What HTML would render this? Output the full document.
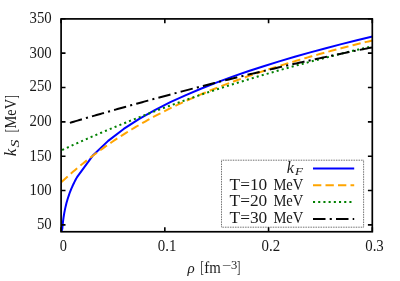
<!DOCTYPE html>
<html><head><meta charset="utf-8"><title>plot</title>
<style>
html,body{margin:0;padding:0;background:#fff;}
svg{display:block;}
text{font-family:"Liberation Serif", "DejaVu Serif", serif;font-size:15.8px;fill:#1a1a1a;}
.it{font-style:italic;}
</style></head><body>
<svg width="400" height="281" viewBox="0 0 400 281">
<rect width="400" height="281" fill="#fff"/>

<g fill="none" stroke-width="2.0" stroke-linejoin="round">
<path d="M61.50,231.75 L62.30,228.75 L62.70,224.34 L63.09,220.82 L63.49,217.86 L63.89,215.26 L64.29,212.94 L64.69,210.84 L65.09,208.90 L65.49,207.10 L65.89,205.41 L66.28,203.83 L66.68,202.33 L67.08,200.91 L67.48,199.55 L67.88,198.25 L68.28,197.01 L68.68,195.81 L69.08,194.65 L69.47,193.54 L69.87,192.46 L70.27,191.42 L70.67,190.41 L71.07,189.42 L71.47,188.47 L71.87,187.54 L72.27,186.63 L72.66,185.74 L73.06,184.88 L73.46,184.03 L73.86,183.21 L74.26,182.40 L74.66,181.60 L75.06,180.83 L75.46,180.07 L75.85,179.32 L76.25,178.59 L76.65,177.87 L77.05,177.16 L92.60,155.82 L108.15,140.85 L123.70,128.94 L139.25,118.87 L154.80,110.08 L170.35,102.21 L185.90,95.06 L201.45,88.49 L217.00,82.39 L232.55,76.68 L248.10,71.30 L263.65,66.22 L279.20,61.40 L294.75,56.79 L310.30,52.39 L325.85,48.17 L341.40,44.11 L356.95,40.19 L372.50,36.42" stroke="#0000ff"/>
<path d="M61.50,181.95 L63.46,180.17 L65.41,178.40 L67.37,176.66 L69.32,174.94 L71.28,173.24 L73.23,171.56 L75.19,169.89 L77.14,168.25 L79.10,166.63 L81.05,165.03 L83.01,163.44 L84.96,161.87 L86.92,160.33 L88.87,158.80 L90.83,157.28 L92.79,155.79 L94.74,154.31 L96.70,152.85 L98.65,151.41 L100.61,149.98 L102.56,148.57 L104.52,147.18 L106.47,145.80 L108.43,144.44 L110.38,143.09 L112.34,141.76 L114.29,140.44 L116.25,139.14 L118.21,137.86 L120.16,136.59 L122.12,135.33 L124.07,134.09 L126.03,132.86 L127.98,131.64 L129.94,130.44 L131.89,129.25 L133.85,128.07 L135.80,126.91 L137.76,125.76 L139.71,124.62 L141.67,123.50 L143.62,122.38 L145.58,121.28 L147.54,120.19 L149.49,119.12 L151.45,118.05 L153.40,116.99 L155.36,115.95 L157.31,114.92 L159.27,113.89 L161.22,112.88 L163.18,111.88 L165.13,110.89 L167.09,109.91 L169.04,108.94 L171.00,107.97 L172.95,107.02 L174.91,106.08 L176.87,105.15 L178.82,104.22 L180.78,103.31 L182.73,102.40 L184.69,101.50 L186.64,100.61 L188.60,99.73 L190.55,98.86 L192.51,97.99 L194.46,97.14 L196.42,96.29 L198.37,95.45 L200.33,94.61 L202.28,93.79 L204.24,92.97 L206.20,92.16 L208.15,91.35 L210.11,90.55 L212.06,89.76 L214.02,88.98 L215.97,88.20 L217.93,87.43 L219.88,86.66 L221.84,85.91 L223.79,85.15 L225.75,84.41 L227.70,83.67 L229.66,82.93 L231.62,82.20 L233.57,81.48 L235.53,80.76 L237.48,80.05 L239.44,79.34 L241.39,78.64 L243.35,77.94 L245.30,77.25 L247.26,76.56 L249.21,75.88 L251.17,75.20 L253.12,74.53 L255.08,73.86 L257.03,73.20 L258.99,72.54 L260.95,71.89 L262.90,71.24 L264.86,70.59 L266.81,69.95 L268.77,69.32 L270.72,68.68 L272.68,68.05 L274.63,67.43 L276.59,66.81 L278.54,66.19 L280.50,65.58 L282.45,64.97 L284.41,64.36 L286.36,63.76 L288.32,63.16 L290.28,62.57 L292.23,61.97 L294.19,61.39 L296.14,60.80 L298.10,60.22 L300.05,59.64 L302.01,59.07 L303.96,58.50 L305.92,57.93 L307.87,57.37 L309.83,56.80 L311.78,56.25 L313.74,55.69 L315.69,55.14 L317.65,54.59 L319.61,54.05 L321.56,53.50 L323.52,52.97 L325.47,52.43 L327.43,51.90 L329.38,51.37 L331.34,50.84 L333.29,50.32 L335.25,49.80 L337.20,49.28 L339.16,48.77 L341.11,48.26 L343.07,47.75 L345.03,47.24 L346.98,46.74 L348.94,46.24 L350.89,45.75 L352.85,45.26 L354.80,44.77 L356.76,44.28 L358.71,43.80 L360.67,43.32 L362.62,42.85 L364.58,42.37 L366.53,41.90 L368.49,41.44 L370.44,40.98 L372.40,40.52" stroke="#ffa500" stroke-dasharray="8.33 4.17"/>
<path d="M61.50,150.31 L63.46,149.41 L65.41,148.52 L67.37,147.62 L69.32,146.73 L71.28,145.85 L73.23,144.96 L75.19,144.09 L77.14,143.21 L79.10,142.34 L81.05,141.47 L83.01,140.61 L84.96,139.75 L86.92,138.89 L88.87,138.04 L90.83,137.19 L92.79,136.34 L94.74,135.50 L96.70,134.66 L98.65,133.82 L100.61,132.99 L102.56,132.16 L104.52,131.34 L106.47,130.52 L108.43,129.70 L110.38,128.88 L112.34,128.07 L114.29,127.26 L116.25,126.46 L118.21,125.66 L120.16,124.86 L122.12,124.07 L124.07,123.28 L126.03,122.49 L127.98,121.71 L129.94,120.93 L131.89,120.15 L133.85,119.37 L135.80,118.60 L137.76,117.84 L139.71,117.07 L141.67,116.31 L143.62,115.55 L145.58,114.80 L147.54,114.05 L149.49,113.30 L151.45,112.56 L153.40,111.81 L155.36,111.08 L157.31,110.34 L159.27,109.61 L161.22,108.88 L163.18,108.16 L165.13,107.43 L167.09,106.71 L169.04,106.00 L171.00,105.28 L172.95,104.57 L174.91,103.87 L176.87,103.16 L178.82,102.46 L180.78,101.77 L182.73,101.07 L184.69,100.38 L186.64,99.69 L188.60,99.00 L190.55,98.32 L192.51,97.64 L194.46,96.96 L196.42,96.29 L198.37,95.62 L200.33,94.95 L202.28,94.29 L204.24,93.62 L206.20,92.96 L208.15,92.31 L210.11,91.65 L212.06,91.00 L214.02,90.36 L215.97,89.71 L217.93,89.07 L219.88,88.43 L221.84,87.79 L223.79,87.16 L225.75,86.53 L227.70,85.90 L229.66,85.27 L231.62,84.65 L233.57,84.03 L235.53,83.41 L237.48,82.80 L239.44,82.18 L241.39,81.57 L243.35,80.97 L245.30,80.36 L247.26,79.76 L249.21,79.16 L251.17,78.57 L253.12,77.97 L255.08,77.38 L257.03,76.79 L258.99,76.20 L260.95,75.62 L262.90,75.04 L264.86,74.46 L266.81,73.89 L268.77,73.31 L270.72,72.74 L272.68,72.17 L274.63,71.61 L276.59,71.04 L278.54,70.48 L280.50,69.92 L282.45,69.37 L284.41,68.81 L286.36,68.26 L288.32,67.71 L290.28,67.16 L292.23,66.62 L294.19,66.08 L296.14,65.54 L298.10,65.00 L300.05,64.47 L302.01,63.93 L303.96,63.40 L305.92,62.87 L307.87,62.35 L309.83,61.82 L311.78,61.30 L313.74,60.78 L315.69,60.27 L317.65,59.75 L319.61,59.24 L321.56,58.73 L323.52,58.22 L325.47,57.71 L327.43,57.21 L329.38,56.71 L331.34,56.21 L333.29,55.71 L335.25,55.21 L337.20,54.72 L339.16,54.23 L341.11,53.74 L343.07,53.25 L345.03,52.77 L346.98,52.28 L348.94,51.80 L350.89,51.32 L352.85,50.84 L354.80,50.37 L356.76,49.90 L358.71,49.42 L360.67,48.95 L362.62,48.49 L364.58,48.02 L366.53,47.56 L368.49,47.10 L370.44,46.64 L372.40,46.18" stroke="#008000" stroke-dasharray="2.08 3.12" stroke-dashoffset="4.48"/>
<path d="M69.90,122.84 L71.80,122.28 L73.71,121.71 L75.61,121.15 L77.51,120.59 L79.41,120.04 L81.32,119.48 L83.22,118.92 L85.12,118.37 L87.02,117.81 L88.93,117.26 L90.83,116.71 L92.73,116.16 L94.63,115.61 L96.54,115.06 L98.44,114.51 L100.34,113.96 L102.24,113.41 L104.15,112.87 L106.05,112.32 L107.95,111.78 L109.85,111.24 L111.76,110.70 L113.66,110.15 L115.56,109.62 L117.46,109.08 L119.37,108.54 L121.27,108.00 L123.17,107.47 L125.07,106.93 L126.98,106.40 L128.88,105.87 L130.78,105.33 L132.68,104.80 L134.59,104.28 L136.49,103.75 L138.39,103.22 L140.29,102.69 L142.20,102.17 L144.10,101.64 L146.00,101.12 L147.90,100.60 L149.81,100.08 L151.71,99.56 L153.61,99.04 L155.51,98.52 L157.42,98.00 L159.32,97.49 L161.22,96.97 L163.12,96.46 L165.03,95.95 L166.93,95.44 L168.83,94.93 L170.73,94.42 L172.64,93.91 L174.54,93.40 L176.44,92.90 L178.34,92.39 L180.25,91.89 L182.15,91.39 L184.05,90.89 L185.95,90.39 L187.86,89.89 L189.76,89.39 L191.66,88.89 L193.56,88.40 L195.47,87.90 L197.37,87.41 L199.27,86.92 L201.17,86.43 L203.08,85.94 L204.98,85.45 L206.88,84.96 L208.78,84.47 L210.69,83.99 L212.59,83.51 L214.49,83.02 L216.39,82.54 L218.30,82.06 L220.20,81.58 L222.10,81.10 L224.00,80.63 L225.91,80.15 L227.81,79.68 L229.71,79.20 L231.61,78.73 L233.52,78.26 L235.42,77.79 L237.32,77.32 L239.22,76.85 L241.13,76.39 L243.03,75.92 L244.93,75.46 L246.83,75.00 L248.74,74.54 L250.64,74.08 L252.54,73.62 L254.44,73.16 L256.35,72.71 L258.25,72.25 L260.15,71.80 L262.05,71.34 L263.96,70.89 L265.86,70.44 L267.76,69.99 L269.66,69.55 L271.57,69.10 L273.47,68.66 L275.37,68.21 L277.27,67.77 L279.18,67.33 L281.08,66.89 L282.98,66.45 L284.88,66.02 L286.79,65.58 L288.69,65.15 L290.59,64.71 L292.49,64.28 L294.40,63.85 L296.30,63.42 L298.20,62.99 L300.10,62.57 L302.01,62.14 L303.91,61.72 L305.81,61.29 L307.71,60.87 L309.62,60.45 L311.52,60.04 L313.42,59.62 L315.32,59.20 L317.23,58.79 L319.13,58.37 L321.03,57.96 L322.93,57.55 L324.84,57.14 L326.74,56.74 L328.64,56.33 L330.54,55.92 L332.45,55.52 L334.35,55.12 L336.25,54.72 L338.15,54.32 L340.06,53.92 L341.96,53.52 L343.86,53.13 L345.76,52.74 L347.67,52.34 L349.57,51.95 L351.47,51.56 L353.37,51.17 L355.28,50.79 L357.18,50.40 L359.08,50.02 L360.98,49.64 L362.89,49.25 L364.79,48.87 L366.69,48.50 L368.59,48.12 L370.50,47.74 L372.40,47.37" stroke="#000" stroke-dasharray="12.5 4.2 2.1 4.2"/>
</g>
<rect x="221.5" y="160.2" width="142.1" height="67.0" fill="#fff" stroke="#111" stroke-width="0.8" stroke-dasharray="0.75 0.91"/>
<rect x="61.1" y="18.9" width="311.20" height="212.85" fill="none" stroke="#000" stroke-width="1.7"/>
<path d="M61.1,224.90h4.4 M372.3,224.90h-4.4 M61.1,190.55h4.4 M372.3,190.55h-4.4 M61.1,156.20h4.4 M372.3,156.20h-4.4 M61.1,121.85h4.4 M372.3,121.85h-4.4 M61.1,87.50h4.4 M372.3,87.50h-4.4 M61.1,53.15h4.4 M372.3,53.15h-4.4 M61.1,18.80h4.4 M372.3,18.80h-4.4 M61.10,231.75v-4.4 M61.10,18.9v4.4 M164.83,231.75v-4.4 M164.83,18.9v4.4 M268.57,231.75v-4.4 M268.57,18.9v4.4 M372.30,231.75v-4.4 M372.30,18.9v4.4" stroke="#000" stroke-width="1.6" fill="none"/>
<text x="36.9" y="229" textLength="14.8" lengthAdjust="spacingAndGlyphs">50</text>
<text x="29.5" y="195" textLength="22.2" lengthAdjust="spacingAndGlyphs">100</text>
<text x="29.5" y="161" textLength="22.2" lengthAdjust="spacingAndGlyphs">150</text>
<text x="29.5" y="126" textLength="22.2" lengthAdjust="spacingAndGlyphs">200</text>
<text x="29.5" y="91" textLength="22.2" lengthAdjust="spacingAndGlyphs">250</text>
<text x="29.5" y="58" textLength="22.2" lengthAdjust="spacingAndGlyphs">300</text>
<text x="29.5" y="23" textLength="22.2" lengthAdjust="spacingAndGlyphs">350</text>
<text x="59.7" y="251.2" textLength="7.2" lengthAdjust="spacingAndGlyphs">0</text>
<text x="157.73" y="251.2" textLength="18.6" lengthAdjust="spacingAndGlyphs">0.1</text>
<text x="261.47" y="251.2" textLength="18.6" lengthAdjust="spacingAndGlyphs">0.2</text>
<text x="365.2" y="251.2" textLength="18.6" lengthAdjust="spacingAndGlyphs">0.3</text>
<text><tspan x="187.6" y="273" textLength="7.2" lengthAdjust="spacingAndGlyphs" style="font-size:15.6px" class="it">ρ</tspan> <tspan x="200.6" y="273.2" textLength="3.3" lengthAdjust="spacingAndGlyphs" style="font-size:17.6px">[</tspan><tspan x="204.3" y="273" textLength="16.5" lengthAdjust="spacingAndGlyphs">fm</tspan><tspan x="221.9" y="269.3" textLength="9.4" lengthAdjust="spacingAndGlyphs" style="font-size:11.5px">−</tspan><tspan x="231.0" y="269.3" textLength="6.3" lengthAdjust="spacingAndGlyphs" style="font-size:11.5px">3</tspan><tspan x="237.0" y="273.2" textLength="3.3" lengthAdjust="spacingAndGlyphs" style="font-size:17.6px">]</tspan></text>
<text transform="translate(16.3,161) rotate(-90)"><tspan x="4.7" y="0" textLength="7.6" lengthAdjust="spacingAndGlyphs" class="it">k</tspan><tspan x="13.4" y="2.7" textLength="7.8" lengthAdjust="spacingAndGlyphs" style="font-size:11.8px" class="it">S</tspan> <tspan x="28.8" y="0.2" textLength="3.3" lengthAdjust="spacingAndGlyphs" style="font-size:17.6px">[</tspan><tspan x="32.6" y="0" textLength="29.5" lengthAdjust="spacingAndGlyphs">MeV</tspan><tspan x="62.5" y="0.2" textLength="3.3" lengthAdjust="spacingAndGlyphs" style="font-size:17.6px">]</tspan></text>
<text><tspan x="286.8" y="172.5" textLength="7.2" lengthAdjust="spacingAndGlyphs" class="it">k</tspan><tspan x="295" y="174.6" textLength="8.0" lengthAdjust="spacingAndGlyphs" style="font-size:10.8px" class="it">F</tspan></text>
<text><tspan x="229.6" y="189.5" textLength="37.6" lengthAdjust="spacingAndGlyphs">T=10</tspan> <tspan x="273.4" y="189.5" textLength="30" lengthAdjust="spacingAndGlyphs">MeV</tspan></text>
<text><tspan x="229.6" y="206.3" textLength="37.6" lengthAdjust="spacingAndGlyphs">T=20</tspan> <tspan x="273.4" y="206.3" textLength="30" lengthAdjust="spacingAndGlyphs">MeV</tspan></text>
<text><tspan x="229.6" y="223.1" textLength="37.6" lengthAdjust="spacingAndGlyphs">T=30</tspan> <tspan x="273.4" y="223.1" textLength="30" lengthAdjust="spacingAndGlyphs">MeV</tspan></text>
<g fill="none" stroke-width="2.0">
<path d="M313,168.5H354.2" stroke="#0000ff"/>
<path d="M313,185.3H354.2" stroke="#ffa500" stroke-dasharray="8.33 4.17"/>
<path d="M313,202.1H354.2" stroke="#008000" stroke-dasharray="2.08 3.12"/>
<path d="M313,218.9H354.2" stroke="#000" stroke-dasharray="12.5 4.2 2.1 4.2"/>
</g>
</svg></body></html>
